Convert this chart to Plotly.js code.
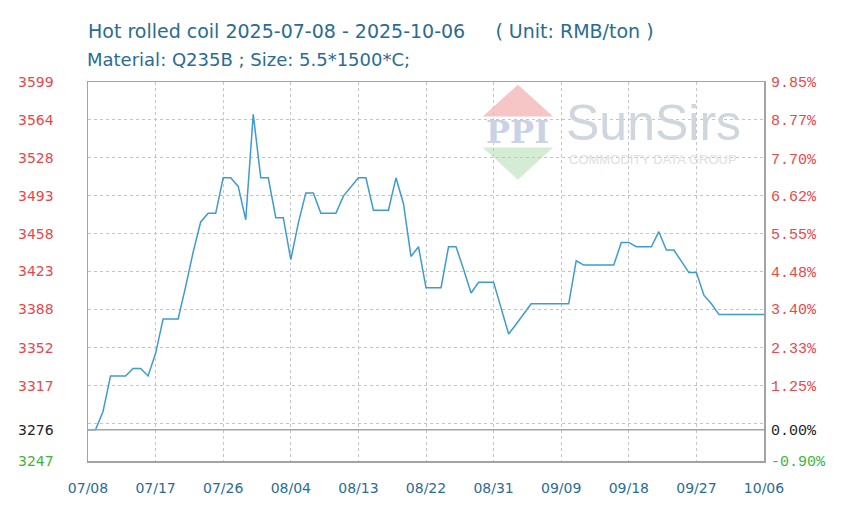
<!DOCTYPE html>
<html><head><meta charset="utf-8">
<script src="https://cdn.plot.ly/plotly-3.0.1.min.js"></script>
<style>html,body{margin:0;padding:0;background:#fff}</style>
</head><body><div id="chart" style="width:847px;height:510px"></div>
<script>
const startDate = '2025-07-08';
const endDate = '2025-10-06';
const prices = [
  3276, 3276, 3293, 3326, 3326, 3326, 3333, 3333, 3326, 3347,
  3379, 3379, 3379, 3409, 3441, 3469, 3477, 3477, 3510, 3510,
  3502, 3471, 3569, 3510, 3510, 3473, 3473, 3434, 3468, 3496,
  3496, 3477, 3477, 3477, 3493, 3502, 3510, 3510, 3480, 3480,
  3480, 3510, 3486, 3437, 3446, 3408, 3408, 3408, 3446, 3446,
  3425, 3403, 3413, 3413, 3413, 3389, 3365, 3374, 3384, 3393,
  3393, 3393, 3393, 3393, 3393, 3433, 3429, 3429, 3429, 3429,
  3429, 3450, 3450, 3446, 3446, 3446, 3460, 3443, 3443, 3432,
  3422, 3422, 3401, 3393, 3383, 3383, 3383, 3383, 3383, 3383,
  3383
];
const baseValue = 3276;
const yMin = 3247;
const yMax = 3599;
const leftTickValues = [3599, 3564, 3528, 3493, 3458, 3423, 3388, 3352, 3317, 3276, 3247];
const leftTickLabels = ['3599','3564','3528','3493','3458','3423','3388','3352','3317','3276','3247'];
const rightTickLabels = ['9.85%','8.77%','7.70%','6.62%','5.55%','4.48%','3.40%','2.33%','1.25%','0.00%','-0.90%'];
const xTickDates = ['2025-07-08','2025-07-17','2025-07-26','2025-08-04','2025-08-13','2025-08-22','2025-08-31','2025-09-09','2025-09-18','2025-09-27','2025-10-06'];
const xTickLabels = ['07/08','07/17','07/26','08/04','08/13','08/22','08/31','09/09','09/18','09/27','10/06'];
const titleLine1 = 'Hot rolled coil 2025-07-08 - 2025-10-06\u00a0\u00a0\u00a0\u00a0\u00a0( Unit: RMB/ton )';
const titleLine2 = 'Material: Q235B ; Size: 5.5*1500*C;';

// dates for each daily price
const dates = [];
{
  const d0 = new Date(startDate + 'T00:00:00Z');
  for (let i = 0; i < prices.length; i++) {
    const d = new Date(d0.getTime() + i * 86400000);
    dates.push(d.toISOString().slice(0, 10));
  }
}

function colorFor(v) {
  if (v > baseValue) return '#e8474c';
  if (v < baseValue) return '#3cb43c';
  return '#222222';
}
const leftText = leftTickLabels.map((t, i) => '<span style="color:' + colorFor(leftTickValues[i]) + '">' + t + '</span>');
const rightText = rightTickLabels.map((t, i) => '<span style="color:' + colorFor(leftTickValues[i]) + '">' + t + '</span>');

const traces = [
  {
    x: dates, y: prices, type: 'scatter', mode: 'lines',
    line: { color: '#3e9bd1', width: 1.5 },
    hoverinfo: 'x+y', showlegend: false
  },
  {
    x: dates, y: prices, type: 'scatter', mode: 'lines', yaxis: 'y2',
    line: { color: 'rgba(0,0,0,0)', width: 0 },
    hoverinfo: 'skip', showlegend: false
  }
];

const gridColor = '#c4c4c4';
const frameColor = '#a3a3a3';

const layout = {
  width: 847, height: 510,
  paper_bgcolor: '#ffffff', plot_bgcolor: '#ffffff',
  margin: { l: 88, r: 83, t: 82, b: 49 },
  showlegend: false,
  title: {
    text: titleLine1,
    xref: 'container', yref: 'container',
    x: 88 / 847, xanchor: 'left',
    y: 1 - 31 / 510, yanchor: 'middle',
    font: { family: 'DejaVu Sans, sans-serif', size: 19, color: '#2b6b93' }
  },
  xaxis: {
    type: 'date',
    range: [startDate, endDate],
    tickmode: 'array', tickvals: xTickDates, ticktext: xTickLabels,
    showgrid: true, gridcolor: gridColor, griddash: 'dot', gridwidth: 1,
    showline: true, mirror: true, linecolor: frameColor, linewidth: 1.5,
    ticks: 'outside', ticklen: 14, tickcolor: 'rgba(0,0,0,0)',
    tickfont: { family: 'DejaVu Sans, sans-serif', size: 14, color: '#2b6c94' },
    zeroline: false, fixedrange: true
  },
  yaxis: {
    range: [yMin, yMax],
    tickmode: 'array', tickvals: leftTickValues, ticktext: leftText,
    showgrid: false,
    minor: { tick0: yMin, dtick: (yMax - yMin) / 10, showgrid: true, gridcolor: gridColor, griddash: 'dot', gridwidth: 1, ticks: '' },
    showline: true, mirror: true, linecolor: frameColor, linewidth: 1.5,
    ticks: 'outside', ticklen: 30, tickcolor: 'rgba(0,0,0,0)',
    tickfont: { family: 'DejaVu Sans, sans-serif', size: 14, color: '#e8474c' },
    zeroline: false, fixedrange: true
  },
  yaxis2: {
    overlaying: 'y', side: 'right',
    range: [yMin, yMax],
    tickmode: 'array', tickvals: leftTickValues, ticktext: rightText,
    showgrid: false, showline: false, zeroline: false,
    ticks: 'outside', ticklen: 3, tickcolor: 'rgba(0,0,0,0)',
    tickfont: { family: 'Liberation Mono, DejaVu Sans Mono, monospace', size: 15, color: '#e8474c' },
    fixedrange: true
  },
  shapes: [
    { type: 'line', xref: 'paper', x0: 0, x1: 1, yref: 'y', y0: baseValue, y1: baseValue,
      line: { color: frameColor, width: 1.5 }, layer: 'above' },
    { type: 'path', xref: 'paper', yref: 'paper', layer: 'below',
      path: 'M 0.636 0.993 L 0.584 0.909 L 0.688 0.909 Z',
      fillcolor: '#f6c6c6', line: { width: 0 } },
    { type: 'path', xref: 'paper', yref: 'paper', layer: 'below',
      path: 'M 0.584 0.827 L 0.688 0.827 L 0.636 0.742 Z',
      fillcolor: '#d3ecd3', line: { width: 0 } }
  ],
  annotations: [
    { text: titleLine2, xref: 'paper', yref: 'paper', x: 0, xanchor: 'left', xshift: -2,
      y: (461 - 60) / 378.7, yanchor: 'middle', showarrow: false, borderpad: 0,
      font: { family: 'DejaVu Sans, sans-serif', size: 18, color: '#2b6b93' } },
    { text: '<b>PPI</b>', xref: 'paper', yref: 'paper', x: 0.636, y: 0.869,
      xanchor: 'center', yanchor: 'middle', showarrow: false,
      font: { family: 'DejaVu Serif, serif', size: 32, color: '#cad2e6' } },
    { text: 'SunSirs', xref: 'paper', yref: 'paper', x: 0.836, y: 0.893,
      xanchor: 'center', yanchor: 'middle', showarrow: false,
      font: { family: 'Liberation Sans, Arial, sans-serif', size: 50, color: '#d0d6dd' } },
    { text: 'COMMODITY DATA GROUP', xref: 'paper', yref: 'paper', x: 0.836, y: 0.795,
      xanchor: 'center', yanchor: 'middle', showarrow: false,
      font: { family: 'Liberation Sans, Arial, sans-serif', size: 13, color: '#e0e0e0' } }
  ]
};

Plotly.newPlot('chart', traces, layout, { displayModeBar: false, staticPlot: true });
</script>
</body></html>
